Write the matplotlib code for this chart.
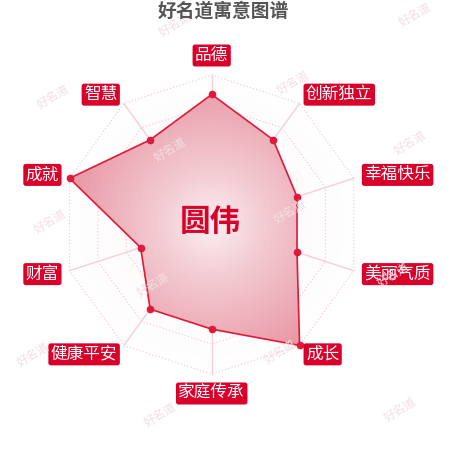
import numpy as np
import matplotlib
matplotlib.use("Agg")
import matplotlib.pyplot as plt
from matplotlib.patches import Polygon
from matplotlib.colors import LinearSegmentedColormap

plt.rcParams['font.family'] = ['Noto Sans CJK SC', 'DejaVu Sans']

title = "好名道寓意图谱"
name = "圆伟"
categories = ["品德", "创新独立", "幸福快乐", "美丽气质", "成长",
              "家庭传承", "健康平安", "财富", "成就", "智慧"]
values = [87, 70, 60, 60, 100, 70, 70, 50, 100, 70]
max_value = 100
levels = [20, 40, 60, 80, 100]

RED = "#d9002a"
LINE = "#e0193a"

fig = plt.figure(figsize=(4.5, 4.5), dpi=100)
ax = fig.add_axes([0, 0, 1, 1])
px = 149.5  # pixels per unit radius
cx, cy = 211.7, 450 - 224.5
ax.set_xlim(-cx / px, (450 - cx) / px)
ax.set_ylim(-cy / px, (450 - cy) / px)
ax.set_aspect("equal")
ax.axis("off")

n = len(categories)
theta = np.arange(n) * 2 * np.pi / n
sx, sy = np.sin(theta), np.cos(theta)

# watermarks
marks = [(175, 25), (415, 15), (53, 97), (293, 83), (410, 143), (170, 150),
         (50, 222), (290, 212), (393, 275), (153, 285), (33, 355), (280, 352),
         (160, 415), (400, 410)]
for mx, my in marks:
    fig.text(mx / 450, 1 - my / 450, "好名道", rotation=32, fontsize=8.5,
             color="#f1dfe2", ha="center", va="center", zorder=0)

# faint background shading
yy, xx = np.mgrid[-1:1:300j, -1:1:300j]
rr = np.hypot(xx, yy)
bg = np.ones((300, 300, 4))
bg[..., 0] = 0.99
bg[..., 1] = 0.93
bg[..., 2] = 0.94
bg[..., 3] = np.clip(0.9 - rr * 0.9, 0, 1) * 0.6
outer = Polygon(np.column_stack([sx, sy]), closed=True, facecolor="none",
                edgecolor="none")
ax.add_patch(outer)
im_bg = ax.imshow(bg, extent=[-1, 1, -1, 1], origin="lower", zorder=1,
                  interpolation="bilinear")
im_bg.set_clip_path(outer)

# grid rings and spokes
for lv in levels:
    f = lv / max_value
    ax.plot(np.append(sx, sx[0]) * f, np.append(sy, sy[0]) * f,
            color="#efc6ce", lw=0.8, ls=(0, (1, 2)), zorder=2)
for i in range(n):
    ax.plot([0, sx[i]], [0, sy[i]], color="#f2d0d7", lw=1.0, zorder=2)

# data polygon with radial gradient fill
v = np.array(values) / max_value
pts = np.column_stack([sx * v, sy * v])
poly = Polygon(pts, closed=True, facecolor="none", edgecolor="none")
ax.add_patch(poly)
cmap = LinearSegmentedColormap.from_list(
    "fillgrad", ["#fbf0f2", "#f4cdd4", "#eeb2bc", "#e896a4"])
grad = np.clip(rr, 0, 1)
im = ax.imshow(grad, extent=[-1, 1, -1, 1], origin="lower", cmap=cmap,
               vmin=0, vmax=1, zorder=3, interpolation="bilinear")
im.set_clip_path(poly)
ax.plot(np.append(pts[:, 0], pts[0, 0]), np.append(pts[:, 1], pts[0, 1]),
        color=LINE, lw=1.2, zorder=4)
ax.plot(pts[:, 0], pts[:, 1], "o", color=LINE, ms=4.5, mec=LINE, zorder=5)

# axis labels
gap = 11 / px
for i, cat in enumerate(categories):
    x = sx[i] * (1 + gap)
    y = sy[i] * (1 + gap)
    ha = "left" if sx[i] > 0.01 else ("right" if sx[i] < -0.01 else "center")
    if sy[i] > 0.99:
        va = "bottom"
    elif sy[i] < -0.99:
        va = "top"
    else:
        va = "center"
    ax.text(x, y, cat, ha=ha, va=va, fontsize=12, color="white", zorder=6,
            bbox=dict(boxstyle="round,pad=0.15,rounding_size=0.15",
                      facecolor=RED, edgecolor="none"))

ax.text(-1.7 / px, 2.5 / px, name, ha="center", va="center", fontsize=22,
        fontweight="bold", color=RED, zorder=6)

fig.text(0.497, 1 - 11 / 450, title, ha="center", va="center", fontsize=13.5,
         fontweight="bold", color="#555555")

fig.savefig("out.png", dpi=100)
